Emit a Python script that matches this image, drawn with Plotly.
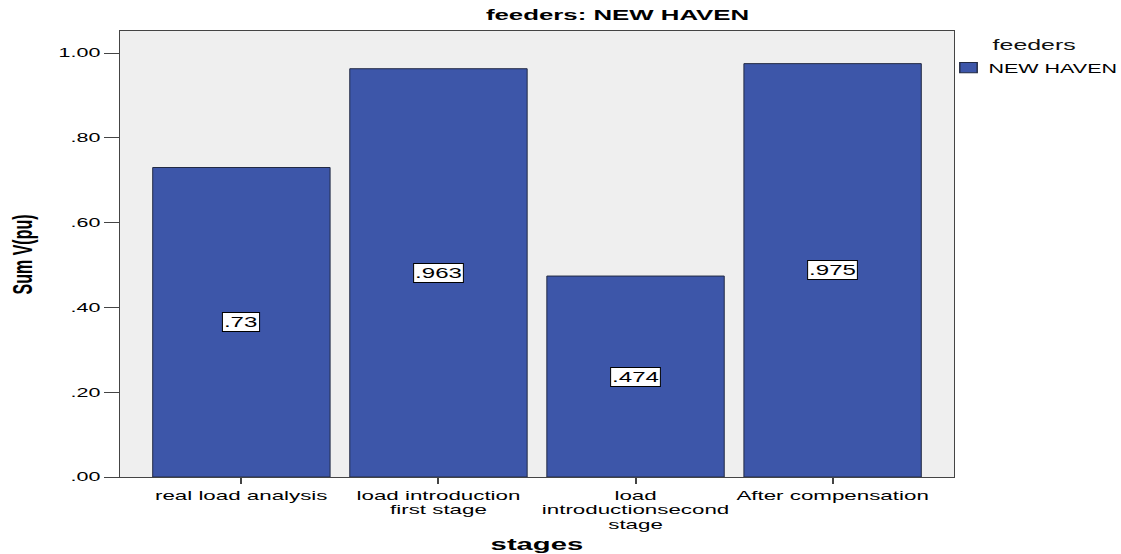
import plotly.graph_objects as go

# Data
stages = ["real load analysis", "load introduction<br>first stage",
          "load<br>introductionsecond<br>stage", "After compensation"]
sum_v = [0.73, 0.963, 0.474, 0.975]
value_labels = [".73", ".963", ".474", ".975"]
y_tickvals = [0.0, 0.2, 0.4, 0.6, 0.8, 1.0]
y_ticktext = [".00", ".20", ".40", ".60", ".80", "1.00"]
series_name = "NEW HAVEN"

BAR_COLOR = "#3d56a9"
FONT = "Liberation Sans, Arial, sans-serif"

fig = go.Figure()
fig.add_trace(go.Bar(
    x=stages, y=sum_v, name=series_name, width=0.9,
    marker=dict(color=BAR_COLOR, line=dict(color="#222a44", width=1)),
    showlegend=True,
))

# value boxes in the middle of each bar
for cat, v, lab in zip(stages, sum_v, value_labels):
    fig.add_annotation(x=cat, y=v / 2, text=lab, showarrow=False,
                       font=dict(family=FONT, size=14, color="black"),
                       bgcolor="white", bordercolor="black", borderwidth=1,
                       borderpad=1)

# chart title, legend heading and axis titles
fig.add_annotation(x=0.597, xref="paper", y=1.036, yref="paper",
                   text="<b>feeders: NEW HAVEN</b>", showarrow=False,
                   font=dict(family=FONT, size=15, color="black"),
                   xanchor="center", yanchor="middle")
fig.add_annotation(x=1.096, xref="paper", y=0.969, yref="paper",
                   text="feeders", showarrow=False,
                   font=dict(family=FONT, size=14.5, color="#111"),
                   xanchor="center", yanchor="middle")
fig.add_annotation(x=0.5, xref="paper", y=-0.152, yref="paper",
                   text="<b>stages</b>", showarrow=False,
                   font=dict(family=FONT, size=17, color="black"),
                   xanchor="center", yanchor="middle")
fig.add_annotation(x=-0.117, xref="paper", y=0.5, yref="paper",
                   text="<b>Sum V(pu)</b>", showarrow=False, textangle=-90,
                   font=dict(family=FONT, size=16, color="black"),
                   xanchor="center", yanchor="middle")

fig.update_layout(
    width=1121, height=554,
    margin=dict(l=120, r=167, t=31, b=77),
    paper_bgcolor="white", plot_bgcolor="#efefef",
    font=dict(family=FONT, size=13, color="black"),
    legend=dict(x=0.9934, y=0.917, xanchor="left", yanchor="middle",
                bgcolor="rgba(0,0,0,0)", font=dict(size=12.5),
                entrywidth=160, entrywidthmode="pixels"),
    xaxis=dict(range=[-0.616, 3.616], showline=True, linecolor="#444",
               linewidth=1, mirror=True, ticks="outside", ticklen=6,
               tickwidth=2, tickcolor="#444", showgrid=False,
               automargin=False, tickfont=dict(size=13)),
    yaxis=dict(range=[0, 1.052], tickvals=y_tickvals, ticktext=y_ticktext,
               showline=True, linecolor="#444", linewidth=1, mirror=True,
               ticks="outside", ticklen=15, tickcolor="#444", showgrid=False,
               zeroline=False, automargin=False, ticklabelstandoff=1,
               tickfont=dict(size=12.5)),
)

# Text is drawn wide: every label is widened horizontally on screen,
# tick label lines are set a little closer and label boxes grow with their text.
WIDEN = r"""
var gd = document.getElementById('{plot_id}');
var SX = 1.72;
function widen(el) {
  if (el.getAttribute('data-wide')) return;
  var bb = el.getBBox();
  if (!bb.width) return;
  var svg = el.ownerSVGElement;
  var anc = el.getAttribute('text-anchor') || 'start';
  var ax = anc === 'end' ? bb.x + bb.width : (anc === 'middle' ? bb.x + bb.width / 2 : bb.x);
  var ctm = el.getCTM();
  var p = svg.createSVGPoint(); p.x = ax; p.y = bb.y + bb.height / 2;
  var sp = p.matrixTransform(ctm);
  var S = svg.createSVGMatrix().translate(sp.x, sp.y).scaleNonUniform(SX, 1).translate(-sp.x, -sp.y);
  var T = ctm.inverse().multiply(S).multiply(ctm);
  el.setAttribute('transform', (el.getAttribute('transform') || '') +
    ' matrix(' + [T.a, T.b, T.c, T.d, T.e, T.f].join(',') + ')');
  el.setAttribute('data-wide', '1');
  if (el.classList.contains('annotation-text')) {
    var r = el.parentNode.querySelector('rect.bg');
    if (r) {
      var extra = (SX - 1) * bb.width;
      r.setAttribute('x', parseFloat(r.getAttribute('x') || 0) - extra / 2);
      r.setAttribute('width', parseFloat(r.getAttribute('width')) + extra);
    }
  }
}
gd.querySelectorAll('g.xtick text tspan.line').forEach(function (t) {
  var d = parseFloat(t.getAttribute('dy') || '0');
  if (d > 0) t.setAttribute('dy', (d / 1.3 * 1.12) + 'em');
});
gd.querySelectorAll('g.legend [clip-path]').forEach(function (el) {
  el.removeAttribute('clip-path');
});
gd.querySelectorAll('svg text').forEach(widen);
gd.querySelectorAll('g.legendpoints path').forEach(function (el) {
  if (el.getAttribute('data-wide')) return;
  el.setAttribute('transform', (el.getAttribute('transform') || '') + ' scale(1.45,0.85)');
  el.setAttribute('data-wide', '1');
});
"""

fig.write_html("out.html", post_script=WIDEN)
